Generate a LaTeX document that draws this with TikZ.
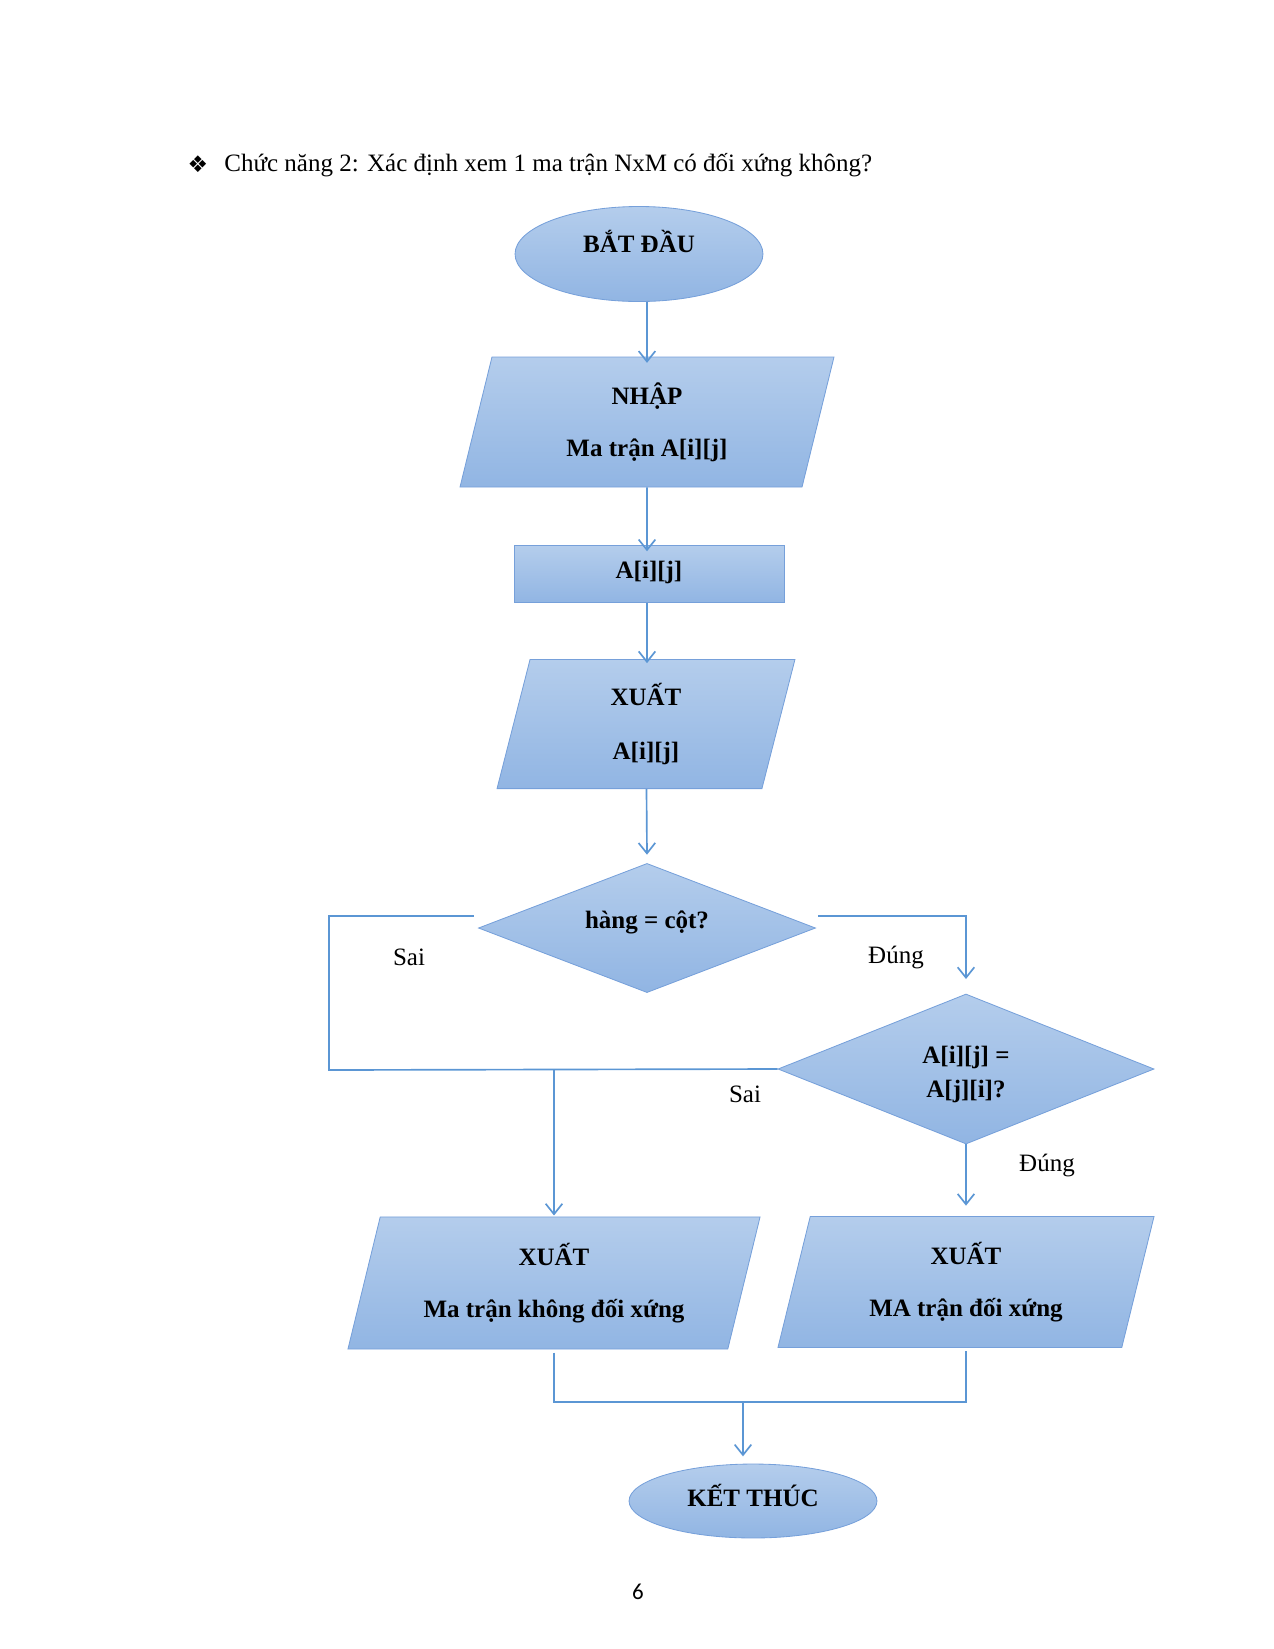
\documentclass[tikz,border=0pt]{standalone}
\usepackage{fontspec}
\setmainfont{Liberation Serif}
\newfontfamily\symfont{DejaVu Sans}
\newfontfamily\pagefont{Carlito}
\usepackage{xcolor}
\usepackage{tikz}
\usetikzlibrary{arrows.meta,shapes.geometric}
\definecolor{boxtop}{RGB}{180,205,236}
\definecolor{boxbot}{RGB}{145,181,227}
\definecolor{boxedge}{RGB}{118,160,218}
\definecolor{flow}{RGB}{91,150,212}
\tikzstyle{box}=[draw=boxedge,top color=boxtop,bottom color=boxbot,font=\fontsize{12}{14}\selectfont\bfseries,align=center,inner sep=0pt]
\tikzstyle{term}=[box,ellipse]
\tikzstyle{io}=[box,trapezium,trapezium left angle=68,trapezium right angle=112,trapezium stretches body=true]
\tikzstyle{proc}=[box,rectangle]
\tikzstyle{test}=[box,diamond,aspect=2.6]
\tikzstyle{line}=[draw=flow,line width=0.8pt]
\tikzstyle{arr}=[line,-{Straight Barb[length=5pt,width=8pt]}]
\tikzstyle{lbl}=[font=\fontsize{12}{14}\selectfont]

\begin{document}
\begin{tikzpicture}[x=0.48pt,y=-0.48pt]
        \useasboundingbox (0,0) rectangle (1274,1649);
        \node at (198,164) [font=\symfont\fontsize{11}{13}\selectfont] (mark) {❖};
        \node at (224,165) [lbl,anchor=west,inner xsep=0pt] (title) {Chức năng 2: Xác định xem 1 ma trận NxM có đối xứng không?};
        \node at (639,254) [term,minimum width=119pt,minimum height=45.6pt] (start) {\raisebox{12.5pt}{BẮT ĐẦU}};
        \node at (647,422) [io,minimum width=179.5pt,minimum height=62.4pt] (input) {NHẬP\\[11pt]Ma trận A[i][j]};
        \node at (649,574) [proc,minimum width=129.6pt,minimum height=27.4pt] (matrix) {\raisebox{4pt}{A[i][j]}};
        \node at (646,724) [io,minimum width=143pt,minimum height=62pt] (show) {XUẤT\\[12pt]A[i][j]};
        \node at (647,928) [test,minimum width=161.8pt,minimum height=62pt] (square) {\raisebox{8pt}{hàng = cột?}};
        \node at (966,1069) [test,minimum width=180.5pt,minimum height=72pt] (symm) {\rule{0pt}{13.5pt}A[i][j] =\\[2pt]A[j][i]?};
        \node at (554,1283) [io,minimum width=197.8pt,minimum height=63.4pt] (outno) {XUẤT\\[11pt]Ma trận không đối xứng};
        \node at (966,1282) [io,minimum width=180.5pt,minimum height=62.9pt] (outyes) {XUẤT\\[11pt]MA trận đối xứng};
        \node at (753,1501) [term,minimum width=119pt,minimum height=35.5pt] (stop) {\raisebox{5.5pt}{KẾT THÚC}};
        \node at (409,957) [lbl] (sai1) {Sai};
        \node at (896,957) [lbl] (dung1) {Đúng};
        \node at (745,1094) [lbl] (sai2) {Sai};
        \node at (1047,1165) [lbl] (dung2) {Đúng};
        \node at (638,1592) [font=\pagefont\fontsize{11}{13}\selectfont] (page) {6};
        \coordinate (leftturn) at (329,1070);
        \coordinate (merge) at (743,1402);
        \draw [arr] (input |- start.south) -- ([yshift=-3pt]input |- input.north);
        \draw [arr] (input) -- ([yshift=-3pt]input |- matrix.north);
        \draw [arr] (matrix.south -| input) -- ([yshift=-2pt]input |- show.north);
        \draw [arr] (show) -- ([yshift=4pt]square.north);
        \draw [line] ([xshift=-2pt,yshift=5.8pt]square.west) -| (leftturn) -- (symm.west);
        \draw [arr] (outno |- leftturn) -- ([yshift=0.5pt]outno |- outno.north);
        \draw [arr] ([xshift=1pt,yshift=5.8pt]square.east) -| ([yshift=7pt]symm.north);
        \draw [arr] (symm.south) -- ([yshift=5pt]symm.south |- outyes.north);
        \draw [line] ([yshift=-1.5pt]outno |- outno.south) -- (outno |- merge) -- (outyes |- merge) -- ([yshift=-1.5pt]outyes |- outyes.south);
        \draw [arr] (merge) -- ([yshift=3.5pt]merge |- stop.north);
      \end{tikzpicture}
\end{document}
